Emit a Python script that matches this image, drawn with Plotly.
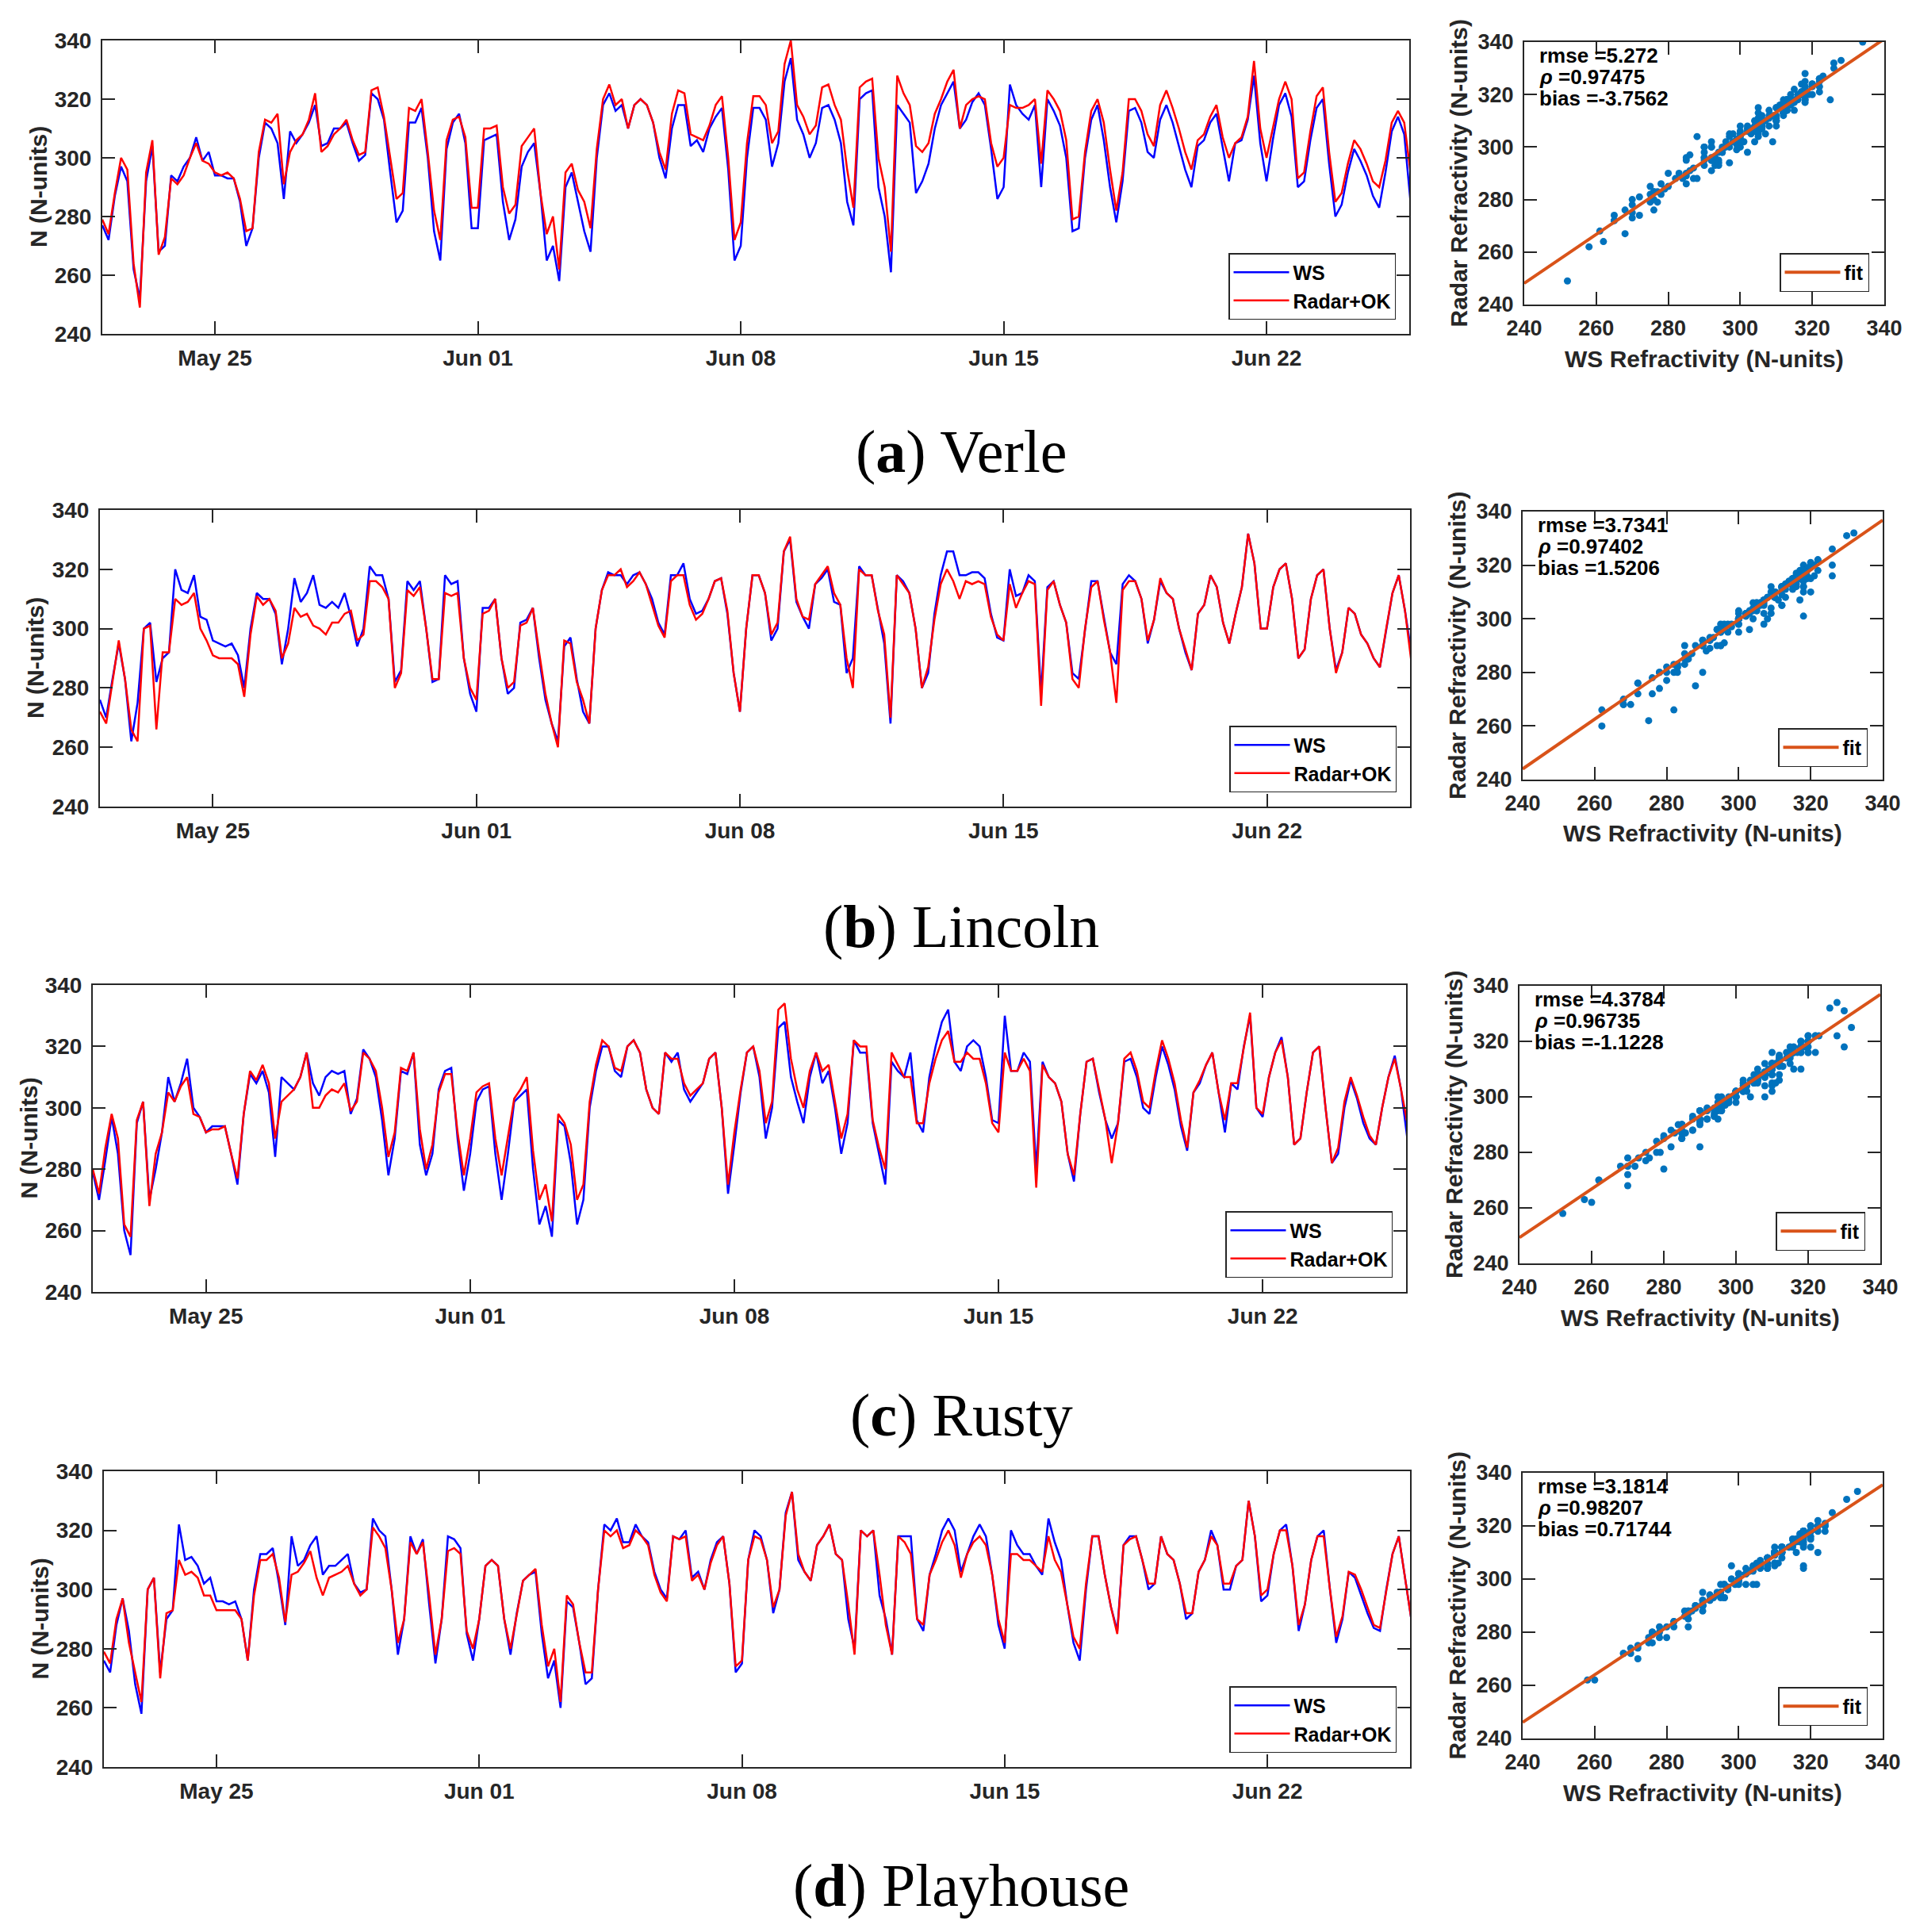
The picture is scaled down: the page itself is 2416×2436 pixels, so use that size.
import pandas as pd
import plotly.graph_objects as go

# ---------------- data ----------------
START = "2015-05-22 00:00"
STEP = "4h"
END_VIEW = "2015-06-25 19:12"
DATE_TICKS = ["2015-05-25", "2015-06-01", "2015-06-08", "2015-06-15", "2015-06-22"]
DATE_TICK_TEXT = ["May 25", "Jun 01", "Jun 08", "Jun 15", "Jun 22"]
N_TICKS = [240, 260, 280, 300, 320, 340]
N_RANGE = [240, 340]

STATIONS = ["Verle", "Lincoln", "Rusty", "Playhouse"]
LETTERS = ["a", "b", "c", "d"]

# values every 4 h (00,04,08,12,16,20 UTC), May 22 .. Jun 25
verle_ws = [
    277, 272, 287, 297, 292, 262, 252, 292, 304, 268, 270, 294,
    292, 297, 300, 307, 299, 302, 294, 294, 293, 293, 285, 270,
    276, 300, 312, 310, 305, 286, 309, 305, 308, 312, 318, 304,
    305, 310, 310, 312, 305, 299, 301, 322, 320, 313, 295, 278,
    282, 312, 312, 317, 300, 275, 265, 303, 312, 315, 305, 276,
    276, 306, 307, 308, 285, 272, 279, 297, 302, 305, 288, 265,
    270, 258, 290, 295, 285, 275, 268, 300, 318, 322, 316, 318,
    310, 318, 320, 318, 312, 300, 293, 310, 318, 318, 304, 306,
    302, 310, 314, 317, 296, 265, 270, 300, 317, 317, 313, 297,
    305, 326, 334, 313, 308, 300, 305, 317, 318, 313, 305, 285,
    277, 320, 322, 323, 290, 280, 261, 318, 315, 312, 288, 292,
    298, 310, 318, 322, 326, 310, 313, 319, 322, 318, 303, 286,
    290, 325, 318, 315, 313, 318, 290, 320, 316, 311, 300, 275,
    276, 300, 313, 318, 306, 290, 278, 292, 316, 317, 312, 302,
    300, 313, 318, 312, 304, 296, 290, 304, 306, 312, 315, 303,
    292, 305, 306, 313, 328, 305, 292, 306, 318, 322, 314, 290,
    292, 306, 317, 320, 298, 280, 284, 295, 303, 299, 294, 287,
    283, 295, 309, 314, 308, 285,
]
verle_radar = [
    279, 274, 288, 300, 296, 264, 249, 295, 306, 267, 273, 293,
    291, 294, 300, 305, 299, 298, 295, 294, 295, 293, 286, 275,
    276, 302, 313, 312, 315, 291, 302, 306, 308, 313, 322, 302,
    304, 308, 310, 313, 306, 301, 302, 323, 324, 314, 300, 286,
    288, 317, 316, 320, 302, 282, 272, 306, 313, 314, 307, 283,
    283, 310, 310, 311, 290, 281, 284, 304, 307, 310, 288, 274,
    280, 262, 295, 298, 289, 285, 276, 303, 320, 325, 318, 320,
    310, 318, 320, 318, 312, 302, 296, 315, 323, 322, 308, 307,
    306, 311, 318, 321, 300, 272, 278, 305, 321, 321, 318, 305,
    309, 332, 340, 318, 314, 308, 311, 324, 325, 318, 313, 296,
    283, 324, 326, 327, 300, 290, 268, 328, 322, 318, 304, 302,
    305, 315, 320, 326, 330, 310, 318, 320, 321, 320, 305, 297,
    300, 318, 317, 317, 318, 320, 298, 323, 320, 316, 306, 279,
    280, 302, 316, 320, 312, 296, 282, 295, 320, 320, 316, 308,
    304, 318, 323, 317, 310, 302, 296, 306, 308, 314, 318, 307,
    300, 305, 307, 314, 333, 310, 300, 310, 320, 326, 320, 293,
    295, 309, 321, 324, 302, 285, 288, 298, 306, 303, 298, 292,
    290, 299, 312, 316, 312, 295,
]
lincoln_ws = [
    276, 270, 283, 295, 283, 262, 275, 300, 302, 282, 290, 292,
    320, 313, 312, 318, 304, 303, 296, 295, 294, 295, 291, 280,
    300, 312, 310, 310, 305, 288, 300, 317, 309, 312, 318, 308,
    307, 309, 307, 312, 304, 294, 300, 321, 318, 318, 310, 282,
    286, 316, 313, 316, 300, 282, 283, 318, 315, 316, 290, 278,
    272, 307, 307, 310, 290, 278, 280, 302, 303, 307, 290, 276,
    268, 262, 294, 297, 283, 272, 268, 300, 313, 319, 318, 318,
    315, 318, 319, 315, 310, 302, 298, 318, 318, 322, 310, 305,
    306, 310, 316, 317, 305, 285, 272, 300, 318, 318, 312, 296,
    300, 326, 330, 309, 304, 300, 315, 317, 320, 309, 308, 285,
    290, 321, 318, 318, 306, 295, 268, 318, 316, 312, 300, 280,
    285, 305, 318, 326, 326, 318, 318, 319, 319, 317, 305, 297,
    296, 320, 311, 312, 318, 316, 278, 314, 316, 308, 302, 285,
    283, 300, 316, 316, 304, 292, 288, 315, 318, 316, 310, 295,
    303, 316, 312, 310, 300, 292, 286, 305, 308, 318, 314, 302,
    295, 305, 314, 332, 322, 300, 300, 314, 320, 322, 310, 290,
    293, 310, 318, 320, 300, 286, 292, 307, 305, 298, 295, 290,
    287, 300, 312, 318, 306, 292,
]
lincoln_radar = [
    272, 268, 282, 296, 283, 266, 262, 300, 301, 266, 292, 292,
    310, 308, 309, 312, 300, 296, 291, 290, 290, 290, 288, 277,
    298, 311, 308, 310, 306, 290, 295, 307, 304, 305, 301, 300,
    298, 302, 302, 305, 306, 296, 298, 316, 316, 314, 310, 280,
    285, 313, 311, 314, 300, 283, 283, 312, 311, 312, 290, 280,
    276, 305, 306, 310, 290, 280, 282, 301, 302, 307, 292, 278,
    268, 260, 296, 295, 282, 276, 268, 300, 313, 318, 318, 320,
    314, 316, 319, 315, 308, 301, 297, 316, 318, 318, 308, 303,
    305, 310, 316, 317, 306, 285, 272, 300, 318, 318, 312, 298,
    302, 326, 331, 310, 304, 303, 315, 318, 321, 312, 308, 290,
    280, 320, 318, 318, 306, 298, 270, 318, 315, 312, 300, 280,
    287, 303, 315, 320, 316, 310, 316, 315, 316, 315, 304, 298,
    296, 315, 307, 312, 316, 315, 274, 313, 316, 308, 302, 283,
    280, 300, 314, 316, 303, 292, 275, 313, 316, 316, 310, 296,
    303, 317, 312, 310, 300, 293, 286, 305, 308, 318, 314, 302,
    295, 305, 314, 332, 322, 300, 300, 314, 320, 322, 310, 290,
    293, 310, 318, 320, 300, 285, 292, 307, 305, 298, 295, 290,
    287, 300, 312, 318, 306, 289,
]
rusty_ws = [
    279, 270, 283, 297, 285, 260, 252, 295, 302, 270, 280, 292,
    310, 302, 308, 316, 300, 297, 292, 294, 294, 294, 285, 275,
    298, 311, 308, 312, 305, 284, 310, 308, 306, 310, 318, 308,
    304, 310, 312, 311, 312, 298, 303, 319, 316, 310, 296, 278,
    290, 312, 311, 318, 288, 278, 285, 306, 312, 313, 290, 273,
    285, 302, 306, 307, 285, 270, 285, 302, 304, 306, 280, 262,
    268, 258, 296, 294, 282, 262, 270, 300, 312, 320, 320, 312,
    310, 320, 322, 318, 306, 300, 298, 318, 315, 318, 306, 302,
    305, 308, 316, 318, 300, 272, 288, 305, 318, 320, 310, 290,
    300, 326, 328, 310, 302, 295, 310, 318, 308, 312, 300, 285,
    295, 322, 318, 318, 295, 285, 275, 315, 312, 310, 318, 296,
    292, 310, 320, 328, 332, 315, 312, 320, 322, 320, 310, 296,
    295, 330, 312, 312, 318, 315, 280, 315, 310, 308, 302, 285,
    276, 298, 315, 316, 305, 296, 290, 295, 315, 316, 310, 300,
    298, 310, 320, 314, 306, 294, 286, 305, 308, 314, 318, 305,
    292, 308, 306, 320, 330, 300, 297, 310, 318, 323, 310, 288,
    290, 305, 318, 320, 300, 282, 285, 300, 309, 303, 295, 290,
    288, 300, 310, 317, 306, 290,
]
rusty_radar = [
    280, 272, 287, 298, 290, 262, 258, 296, 302, 268, 285, 292,
    305, 302, 307, 310, 298, 297, 292, 293, 293, 294, 285, 277,
    298, 312, 309, 314, 308, 290, 302, 304, 306, 310, 318, 300,
    300, 304, 306, 305, 308, 299, 302, 318, 316, 312, 300, 284,
    292, 313, 312, 318, 293, 280, 288, 305, 311, 311, 292, 278,
    290, 305, 307, 308, 290, 278, 290, 303, 306, 310, 286, 270,
    275, 263, 298, 295, 288, 270, 275, 302, 314, 322, 320, 313,
    312, 320, 322, 318, 306, 300, 298, 318, 316, 316, 308, 304,
    306, 308, 316, 318, 300, 275, 292, 306, 318, 320, 312, 295,
    302, 332, 334, 316, 306, 300, 312, 318, 312, 314, 302, 290,
    298, 322, 320, 320, 296, 287, 280, 318, 314, 310, 310, 295,
    295, 308, 316, 322, 325, 315, 315, 318, 316, 316, 308, 295,
    292, 318, 312, 312, 316, 312, 274, 314, 310, 308, 302, 285,
    278, 298, 315, 316, 306, 296, 282, 295, 316, 318, 312, 302,
    300, 312, 322, 316, 308, 296, 287, 305, 309, 314, 318, 305,
    296, 308, 308, 320, 331, 300, 298, 310, 318, 322, 310, 288,
    290, 305, 318, 320, 300, 282, 287, 302, 310, 304, 297, 291,
    288, 300, 310, 316, 306, 295,
]
playhouse_ws = [
    276, 272, 288, 297, 286, 268, 258, 300, 304, 272, 290, 293,
    322, 310, 311, 308, 302, 304, 296, 296, 295, 296, 290, 276,
    300, 312, 312, 314, 302, 288, 318, 308, 310, 315, 318, 305,
    308, 308, 310, 312, 302, 299, 300, 324, 320, 318, 300, 278,
    290, 318, 312, 317, 295, 275, 290, 318, 317, 314, 285, 276,
    290, 308, 310, 308, 290, 278, 292, 303, 305, 306, 285, 270,
    276, 260, 296, 294, 282, 268, 270, 300, 322, 320, 324, 316,
    316, 322, 318, 316, 306, 300, 297, 318, 317, 320, 304, 306,
    300, 310, 316, 318, 302, 272, 275, 310, 320, 318, 310, 292,
    300, 326, 333, 310, 306, 303, 315, 318, 322, 312, 310, 290,
    280, 320, 318, 320, 298, 290, 278, 318, 318, 318, 290, 286,
    305, 312, 320, 324, 320, 306, 312, 318, 322, 318, 305, 288,
    280, 320, 315, 312, 312, 308, 305, 324, 316, 310, 295, 282,
    276, 300, 318, 318, 305, 294, 286, 315, 318, 318, 310, 300,
    302, 318, 312, 310, 302, 290, 292, 306, 310, 320, 315, 300,
    300, 308, 310, 330, 318, 296, 298, 312, 320, 322, 308, 286,
    295, 310, 318, 320, 300, 282, 290, 306, 304, 298, 292, 287,
    286, 300, 312, 318, 304, 290,
]
playhouse_radar = [
    279, 275, 290, 297, 282, 272, 262, 300, 304, 270, 292, 293,
    310, 305, 306, 304, 298, 298, 293, 293, 293, 293, 290, 276,
    298, 310, 310, 312, 304, 289, 305, 306, 309, 313, 304, 298,
    304, 305, 306, 308, 302, 298, 300, 321, 318, 314, 300, 282,
    290, 316, 312, 316, 298, 278, 290, 313, 314, 312, 286, 280,
    290, 308, 310, 308, 290, 280, 292, 303, 305, 307, 288, 274,
    280, 262, 298, 295, 282, 272, 272, 300, 320, 318, 320, 314,
    315, 320, 318, 315, 305, 299, 296, 318, 317, 318, 303, 305,
    300, 309, 315, 318, 302, 274, 276, 310, 318, 317, 310, 294,
    300, 325, 333, 312, 306, 303, 315, 318, 322, 312, 310, 295,
    278, 320, 318, 320, 305, 288, 278, 318, 316, 312, 290, 288,
    305, 310, 316, 320, 315, 304, 312, 316, 318, 315, 305, 290,
    282, 312, 312, 310, 310, 308, 306, 318, 310, 306, 295, 284,
    280, 302, 318, 318, 305, 294, 285, 315, 317, 318, 310, 302,
    302, 318, 312, 310, 302, 292, 292, 306, 310, 318, 315, 302,
    302, 308, 310, 330, 318, 298, 300, 312, 320, 320, 308, 288,
    295, 310, 318, 318, 300, 284, 291, 306, 305, 300, 294, 288,
    287, 300, 312, 318, 304, 290,
]

WS_SERIES = [verle_ws, lincoln_ws, rusty_ws, playhouse_ws]
RADAR_SERIES = [verle_radar, lincoln_radar, rusty_radar, playhouse_radar]

RMSE = ["5.272", "3.7341", "4.3784", "3.1814"]
RHO = ["0.97475", "0.97402", "0.96735", "0.98207"]
BIAS = ["-3.7562", "1.5206", "-1.1228", "0.71744"]
FIT_AT_240 = [248.1, 244.0, 249.3, 246.1]
FIT_AT_340 = [341.2, 336.8, 336.9, 335.5]

# ---------------- layout geometry (pixels in the page) ----------------
W, H = 2416, 2436
PAGE_OFFSET = 8  # default body margin of the html page
TS_BOX = [(129, 1777, 51, 421), (126, 1778, 643, 1017), (117, 1773, 1242, 1629), (131, 1778, 1855, 2228)]
SC_BOX = [(1922, 2376, 53, 384), (1920, 2374, 645, 983), (1916, 2371, 1243, 1593), (1920, 2374, 1857, 2192)]
CAP_Y = [569, 1168, 1784, 2377]
CAP_X = 1212

FONT = "Liberation Sans"
AX = "#262626"


def px(v):
    return (v - PAGE_OFFSET) / W


def py(v):
    return 1 - (v - PAGE_OFFSET) / H


times = pd.date_range(START, periods=len(verle_ws), freq=STEP)

fig = go.Figure()
layout = dict(
    template="none",
    width=W, height=H, margin=dict(l=0, r=0, t=0, b=0, pad=0, autoexpand=False),
    paper_bgcolor="white", plot_bgcolor="white",
    font=dict(family=FONT, color=AX),
    annotations=[],
)


def axis_common(tick_size):
    return dict(
        ticks="inside", ticklen=16, tickwidth=1.5, tickcolor=AX,
        showline=True, linecolor=AX, linewidth=2, mirror="ticks",
        showgrid=False, zeroline=False, automargin=False,
        tickfont=dict(family=FONT, size=tick_size, color=AX, weight="bold"),
    )


for i in range(4):
    ts_n = 2 * i + 1
    sc_n = 2 * i + 2
    xs_ts = "x" if ts_n == 1 else f"x{ts_n}"
    ys_ts = "y" if ts_n == 1 else f"y{ts_n}"
    xs_sc, ys_sc = f"x{sc_n}", f"y{sc_n}"
    lg_ts = "legend" if ts_n == 1 else f"legend{ts_n}"
    lg_sc = f"legend{sc_n}"

    l, r, t, b = TS_BOX[i]
    xa = axis_common(28)
    xa.update(domain=[px(l), px(r)], anchor=ys_ts, type="date", range=[START, END_VIEW],
              tickvals=DATE_TICKS, ticktext=DATE_TICK_TEXT, ticklabelstandoff=4)
    ya = axis_common(28)
    ya.update(domain=[py(b), py(t)], anchor=xs_ts, range=N_RANGE, tickvals=N_TICKS,
              ticklabelstandoff=6)
    layout["xaxis" if ts_n == 1 else f"xaxis{ts_n}"] = xa
    layout["yaxis" if ts_n == 1 else f"yaxis{ts_n}"] = ya

    fig.add_trace(go.Scatter(x=times, y=WS_SERIES[i], mode="lines", name="WS",
                             line=dict(color="#0000FF", width=2.5),
                             xaxis=xs_ts, yaxis=ys_ts, legend=lg_ts))
    fig.add_trace(go.Scatter(x=times, y=RADAR_SERIES[i], mode="lines", name="Radar+OK",
                             line=dict(color="#FF0000", width=2.5),
                             xaxis=xs_ts, yaxis=ys_ts, legend=lg_ts))
    layout[lg_ts] = dict(
        x=px(r - 17), y=py(b - 18), xanchor="right", yanchor="bottom",
        bgcolor="white", bordercolor=AX, borderwidth=1.5, itemwidth=70,
        font=dict(family=FONT, size=25, color="black", weight="bold"),
        tracegroupgap=0,
    )
    layout["annotations"].append(dict(
        text="N (N-units)", textangle=-90, x=px(l - 81), y=py((t + b) / 2),
        xref="paper", yref="paper", xanchor="center", yanchor="middle", showarrow=False,
        font=dict(family=FONT, size=30, color=AX, weight="bold")))

    # scatter panel
    sl, sr, st, sb = SC_BOX[i]
    sxa = axis_common(27)
    sxa.update(domain=[px(sl), px(sr)], anchor=ys_sc, range=N_RANGE, tickvals=N_TICKS,
               ticklabelstandoff=5)
    sya = axis_common(27)
    sya.update(domain=[py(sb), py(st)], anchor=xs_sc, range=N_RANGE, tickvals=N_TICKS,
               ticklabelstandoff=6)
    layout[f"xaxis{sc_n}"] = sxa
    layout[f"yaxis{sc_n}"] = sya

    fig.add_trace(go.Scatter(x=WS_SERIES[i], y=RADAR_SERIES[i], mode="markers",
                             marker=dict(color="#0072BD", size=9, line=dict(width=0)),
                             showlegend=False, xaxis=xs_sc, yaxis=ys_sc))
    fig.add_trace(go.Scatter(x=N_RANGE, y=[FIT_AT_240[i], FIT_AT_340[i]], mode="lines",
                             name="fit", line=dict(color="#D95319", width=4),
                             xaxis=xs_sc, yaxis=ys_sc, legend=lg_sc))
    layout[lg_sc] = dict(
        x=px(sr - 19), y=py(sb - 16), xanchor="right", yanchor="bottom",
        bgcolor="white", bordercolor=AX, borderwidth=1.5, itemwidth=70,
        font=dict(family=FONT, size=25, color="black", weight="bold"),
    )
    stats = [f"rmse ={RMSE[i]}", f"<i>ρ</i> ={RHO[i]}", f"bias ={BIAS[i]}"]
    for txt, dy in zip(stats, [17, 44, 71]):
        layout["annotations"].append(dict(
            text=txt, x=px(sl + 18), y=py(st + dy), xref="paper", yref="paper",
            xanchor="left", yanchor="middle", showarrow=False, borderpad=0,
            font=dict(family=FONT, size=26, color="black", weight="bold")))
    layout["annotations"].append(dict(
        text="WS Refractivity (N-units)", x=px((sl + sr) / 2), y=py(sb + 68),
        xref="paper", yref="paper", xanchor="center", yanchor="middle", showarrow=False,
        font=dict(family=FONT, size=30, color=AX, weight="bold")))
    layout["annotations"].append(dict(
        text="Radar Refractivity (N-units)", textangle=-90, x=px(sl - 83), y=py((st + sb) / 2),
        xref="paper", yref="paper", xanchor="center", yanchor="middle", showarrow=False,
        font=dict(family=FONT, size=30, color=AX, weight="bold")))

    # caption
    layout["annotations"].append(dict(
        text=f"(<b>{LETTERS[i]}</b>) {STATIONS[i]}", x=px(CAP_X), y=py(CAP_Y[i]),
        xref="paper", yref="paper", xanchor="center", yanchor="middle", showarrow=False,
        font=dict(family="Liberation Serif", size=76, color="black")))

fig.update_layout(**layout)
fig.write_html("out.html")
